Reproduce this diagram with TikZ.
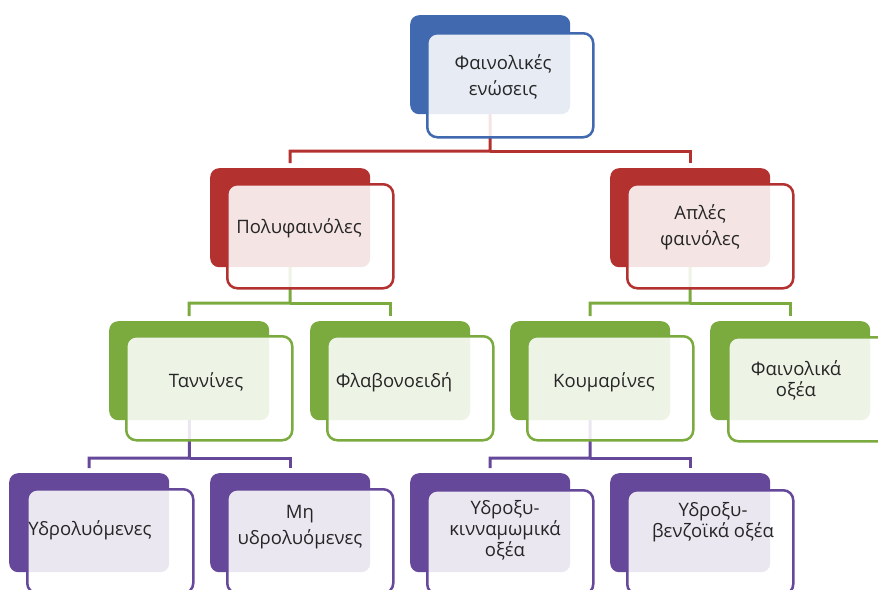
\documentclass[tikz,border=0pt]{standalone}
\usepackage{fontspec}
\setmainfont{Open Sans}
\usetikzlibrary{backgrounds}
\definecolor{cblue}{HTML}{4169B0}
\definecolor{cred}{HTML}{B3312F}
\definecolor{cgreen}{HTML}{7BAA3F}
\definecolor{cpurple}{HTML}{65489A}
\definecolor{ctext}{HTML}{262626}
\begin{document}
\begin{tikzpicture}[x=1pt,y=-1pt,
  backbox/.style={rectangle, rounded corners=9pt, fill=#1, minimum width=160pt, minimum height=99pt, inner sep=0pt, anchor=north west},
  frontbox/.style={rectangle, rounded corners=10pt, draw=#1, line width=2.5pt, fill=white, fill opacity=0.87, draw opacity=1, minimum width=166pt, minimum height=104pt, inner sep=0pt, anchor=north west},
  lbl/.style={font=\fontsize{18.5}{26}\selectfont, align=center, text=ctext, inner sep=0pt},
  lbls/.style={font=\fontsize{18.5}{21}\selectfont, align=center, text=ctext, inner sep=0pt},
  conn/.style={line width=3pt, draw=#1}]
\useasboundingbox (0,0) rectangle (878,589);
\clip (0,0) rectangle (878,589);

% level 1
\node[backbox=cblue] (tb) at (410,15) {};
\node[frontbox=cblue] (tf) at (426,32) {};
\node[lbl] (t0) at (503,77) {Φαινολικές\\ενώσεις};

% level 2
\node[backbox=cred] (pb) at (210,168) {};
\node[frontbox=cred] (pf) at (226,183) {};
\node[lbl] (t1) at (299,228) {Πολυφαινόλες};

\node[backbox=cred] (ab) at (610,168) {};
\node[frontbox=cred] (af) at (626,183) {};
\node[lbl] (t2) at (700,227) {Απλές\\φαινόλες};

% level 3
\node[backbox=cgreen] (nb) at (109,321) {};
\node[frontbox=cgreen] (nf) at (125,335) {};
\node[lbl] (t3) at (206,382) {Ταννίνες};

\node[backbox=cgreen] (fb) at (310,321) {};
\node[frontbox=cgreen] (ff) at (326,335) {};
\node[lbl] (t4) at (394,382) {Φλαβονοειδή};

\node[backbox=cgreen] (kb) at (510,321) {};
\node[frontbox=cgreen] (kf) at (526,335) {};
\node[lbl] (t5) at (604,382) {Κουμαρίνες};

\node[backbox=cgreen] (ob) at (710,321) {};
\node[frontbox=cgreen] (of) at (727,336) {};
\node[lbls] (t6) at (796,380) {Φαινολικά\\οξέα};

% level 4
\node[backbox=cpurple] (yb) at (9,473) {};
\node[frontbox=cpurple] (yf) at (26,488) {};
\node[lbl] (t7) at (90,530) {Υδρολυόμενες};

\node[backbox=cpurple] (mb) at (210,473) {};
\node[frontbox=cpurple] (mf) at (226,488) {};
\node[lbl] (t8) at (300,527) {Μη\\υδρολυόμενες};

\node[backbox=cpurple] (cb) at (410,473) {};
\node[frontbox=cpurple] (cf) at (426,489) {};
\node[lbls] (t9) at (505,530) {Υδροξυ-\\κινναμωμικά\\οξέα};

\node[backbox=cpurple] (bb) at (610,473) {};
\node[frontbox=cpurple] (bf) at (626,489) {};
\node[lbls] (t10) at (713,522) {Υδροξυ-\\βενζοϊκά οξέα};

\begin{scope}[on background layer]
  \coordinate (rbar) at (490,151);
  \draw[conn=cred] (tb.center) -- (rbar) -| ([yshift=5pt]pb.north);
  \draw[conn=cred] (rbar) -| ([yshift=5pt]ab.north);
  \coordinate (gbar1) at (290,303);
  \draw[conn=cgreen] (pb.center) -- (gbar1) -| ([yshift=5pt]nb.north);
  \draw[conn=cgreen] (gbar1) -| ([yshift=5pt]fb.north);
  \coordinate (gbar2) at (690,303);
  \draw[conn=cgreen] (ab.center) -- (gbar2) -| ([yshift=5pt]kb.north);
  \draw[conn=cgreen] (gbar2) -| ([yshift=5pt]ob.north);
  \coordinate (pbar1) at (189.5,458);
  \draw[conn=cpurple] (nb.center) -- (pbar1) -| ([yshift=5pt]yb.north);
  \draw[conn=cpurple] (pbar1) -| ([yshift=5pt]mb.north);
  \coordinate (pbar2) at (590,458);
  \draw[conn=cpurple] (kb.center) -- (pbar2) -| ([yshift=5pt]cb.north);
  \draw[conn=cpurple] (pbar2) -| ([yshift=5pt]bb.north);
\end{scope}
\end{tikzpicture}
\end{document}
